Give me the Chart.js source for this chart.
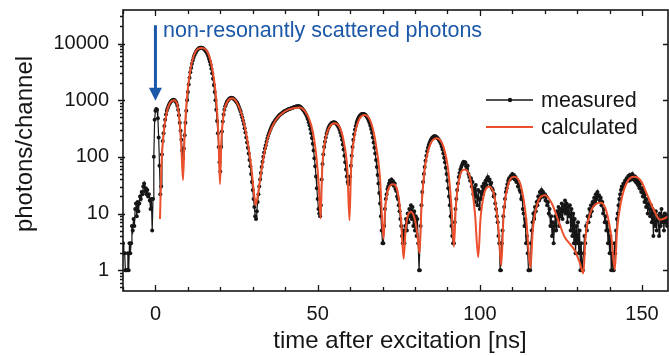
<!DOCTYPE html>
<html>
<head>
<meta charset="utf-8">
<script src="https://cdn.jsdelivr.net/npm/chart.js@4.4.1/dist/chart.umd.min.js"></script>
<style>
  html, body { margin: 0; padding: 0; background: #fff; overflow: hidden; }
  #wrap { position: relative; width: 672px; height: 356px; }
</style>
</head>
<body>
<div id="wrap"><canvas id="decay-chart"></canvas></div>
<script>
// measured histogram: one count per 0.25 ns channel, first channel at -10 ns
// (10 channels = 2.5 ns per row)
const firstChannel = -10;
const channelWidth = 0.25;
const measuredCounts = [
  3, 2, 2, 1, 1, 1, 2, 1, 3, 2,
  3, 6, 5, 8, 6, 12, 15, 9, 16, 11,
  15, 20, 18, 24, 22, 30, 34, 25, 28, 22,
  26, 20, 22, 17, 12, 18, 5, 18, 100, 450,
  650, 700, 680, 480, 220, 70, 22, 30, 110, 190,
  260, 350, 450, 560, 650, 720, 790, 850, 900, 950,
  980, 1000, 1020, 1010, 990, 950, 890, 800, 680, 540,
  400, 290, 200, 130, 95, 140, 240, 400, 650, 1000,
  1400, 1900, 2500, 3100, 3700, 4400, 5000, 5600, 6200, 6700,
  7100, 7500, 7800, 8100, 8300, 8400, 8450, 8400, 8300, 8150,
  7950, 7700, 7400, 7000, 6500, 6000, 5400, 4800, 4200, 3600,
  3000, 2400, 1850, 1400, 1000, 680, 430, 260, 150, 80,
  55, 150, 280, 420, 560, 680, 780, 860, 930, 980,
  1020, 1060, 1080, 1090, 1100, 1090, 1070, 1040, 1010, 970,
  930, 880, 820, 760, 690, 630, 560, 500, 440, 380,
  320, 270, 220, 180, 145, 115, 88, 68, 50, 36,
  26, 18, 13, 9, 8, 11, 16, 22, 30, 40,
  52, 66, 82, 100, 120, 140, 160, 185, 210, 235,
  260, 285, 310, 335, 360, 385, 405, 425, 445, 465,
  485, 505, 525, 545, 560, 575, 590, 605, 620, 635,
  645, 655, 665, 675, 690, 700, 705, 715, 725, 735,
  740, 750, 760, 770, 775, 780, 785, 780, 770, 755,
  730, 705, 680, 650, 620, 585, 545, 505, 460, 410,
  360, 310, 260, 215, 170, 130, 95, 68, 45, 28,
  18, 12, 10, 9, 14, 40, 75, 110, 150, 185,
  220, 255, 285, 315, 340, 360, 378, 392, 400, 405,
  408, 405, 398, 385, 370, 350, 328, 300, 270, 235,
  200, 165, 135, 105, 80, 60, 45, 36, 33, 36,
  45, 70, 105, 150, 200, 250, 300, 350, 400, 440,
  475, 505, 530, 550, 562, 570, 572, 568, 558, 545,
  525, 500, 470, 435, 395, 355, 310, 265, 220, 180,
  145, 115, 88, 66, 48, 34, 23, 15, 9, 5,
  3, 3, 6, 12, 18, 22, 27, 30, 34, 38,
  36, 40, 33, 37, 31, 34, 27, 25, 20, 18,
  14, 11, 8, 6, 4, 3, 5, 3, 6, 8,
  5, 10, 7, 12, 9, 14, 8, 13, 6, 11,
  5, 9, 4, 8, 3, 1, 1, 6, 14, 24,
  36, 50, 66, 85, 105, 125, 145, 162, 178, 192,
  205, 215, 222, 228, 232, 230, 226, 220, 212, 204,
  195, 183, 170, 152, 135, 115, 96, 80, 64, 50,
  38, 28, 20, 14, 9, 6, 4, 3, 3, 7,
  12, 18, 26, 34, 44, 52, 60, 66, 72, 78,
  82, 76, 80, 68, 62, 70, 50, 44, 38, 42,
  30, 36, 22, 28, 16, 32, 20, 14, 26, 18,
  12, 24, 18, 30, 22, 34, 28, 38, 32, 42,
  44, 38, 40, 33, 35, 28, 26, 20, 22, 15,
  12, 9, 7, 4, 3, 1, 1, 3, 5, 9,
  13, 18, 24, 28, 33, 38, 42, 40, 46, 44,
  50, 42, 48, 40, 44, 36, 38, 30, 32, 26,
  24, 18, 20, 12, 10, 6, 8, 3, 4, 2,
  1, 1, 1, 3, 5, 7, 10, 8, 13, 11,
  16, 14, 20, 17, 24, 19, 26, 21, 24, 20,
  22, 17, 20, 14, 16, 10, 12, 6, 9, 4,
  7, 3, 6, 9, 5, 11, 8, 13, 6, 12,
  9, 15, 8, 14, 11, 17, 10, 15, 7, 13,
  9, 14, 5, 12, 4, 10, 3, 8, 2, 6,
  3, 7, 2, 5, 1, 3, 1, 1, 2, 4,
  3, 6, 5, 9, 7, 12, 9, 14, 11, 16,
  14, 19, 16, 22, 18, 24, 20, 21, 17, 19,
  14, 16, 10, 12, 7, 9, 5, 7, 3, 5,
  2, 4, 1, 2, 1, 1, 3, 2, 5, 8,
  10, 14, 18, 22, 26, 30, 28, 34, 32, 38,
  36, 42, 40, 46, 38, 48, 44, 40, 50, 42,
  46, 38, 44, 35, 40, 32, 36, 28, 34, 24,
  28, 20, 24, 16, 22, 13, 18, 10, 15, 12,
  9, 14, 7, 12, 4, 10, 6, 11, 5, 9,
  8, 4, 10, 6, 12, 7, 9, 5, 10, 7,
  9, 6, 8
];

// calculated curve
const calcTime = [
  1.4, 1.8, 2.5, 3.5, 4.5, 5.7, 6.7, 7.4, 8.0, 8.5,
  9.0, 9.7, 10.8, 12.2, 14.2, 16.2, 17.6, 18.7, 19.4, 19.9,
  20.3, 21.0, 22.2, 23.6, 25.0, 26.6, 28.2, 29.5, 30.3, 30.9,
  31.6, 32.5, 33.5, 34.7, 36.0, 37.5, 39.1, 41.0, 43.0, 44.5, 46.0, 47.3, 48.5, 49.5, 50.3, 50.9,
  51.4, 52.3, 53.7, 55.3, 56.8, 58.1, 59.2, 59.8,
  60.3, 61.3, 62.8, 64.5, 66.2, 67.8, 69.2, 70.3,
  70.8, 71.8, 73.2, 74.6, 75.7, 76.5,
  77.1, 77.9, 78.8, 79.8, 80.7, 81.4,
  82.0, 83.0, 84.6, 86.7, 88.8, 90.3, 91.3, 92.0,
  92.6, 93.6, 95.4, 97.1, 98.5, 99.5,
  100.2, 101.3, 102.9, 104.5, 105.8, 106.6,
  107.3, 108.6, 110.7, 112.7, 114.3, 115.6,
  116.3, 117.6, 120.1, 122.2, 124.2, 126.1, 128.0, 129.5, 130.9, 131.9,
  132.6, 134.0, 135.6, 137.3, 139.0, 140.5, 141.6,
  142.3, 143.5, 145.4, 147.6, 149.6, 151.5, 153.5, 155.5, 157.0, 158.0
];
const calcCounts = [
  8, 60, 250, 620, 900, 1000, 850, 450, 140, 39,
  250, 1100, 3500, 6900, 8300, 6800, 3400, 1100, 250, 33,
  180, 550, 950, 1080, 930, 560, 220, 70, 25, 14,
  22, 50, 110, 220, 340, 480, 590, 680, 730, 745, 650, 480, 280, 115, 35, 8.2,
  60, 190, 340, 390, 330, 180, 55, 7.6,
  60, 220, 460, 550, 440, 190, 45, 3.6,
  12, 27, 33, 25, 8, 1.6,
  5, 9.5, 10.7, 8.5, 4.5, 2.0,
  12, 60, 160, 213, 150, 55, 12, 2.6,
  13, 40, 60, 40, 10, 1.7,
  8, 22, 29.6, 20, 5, 1.2,
  9, 30, 44.5, 30, 8, 1.1,
  5, 14, 21, 15, 7.5, 3.9, 2.8, 2.1, 1.3, 0.88,
  4, 10, 14.5, 15.5, 11, 4, 1.03,
  5, 16, 36, 44.5, 38, 22, 12, 7.8, 8.2, 9
];

const xTicks = [0, 50, 100, 150];
const yTicks = [1, 10, 100, 1000, 10000];
const seriesNames = ['measured', 'calculated'];

const ink = '#161616';
const red = '#ec4f2c';
const blue = '#1c58a8';
const fontFamily = '"Liberation Sans", Arial, Helvetica, sans-serif';

const measured = measuredCounts.map((c, i) => ({ x: firstChannel + i * channelWidth, y: c }));
const calculated = calcTime.map((t, i) => ({ x: t, y: calcCounts[i] }));

// axes box with inward ticks, titles, legend and the arrow note
const decorPlugin = {
  id: 'decor',
  afterDraw(chart) {
    const ctx = chart.ctx;
    const a = chart.chartArea;
    const xs = chart.scales.x;
    const ys = chart.scales.y;
    ctx.save();
    ctx.strokeStyle = ink;
    ctx.lineWidth = 1.6;
    ctx.strokeRect(a.left, a.top, a.right - a.left, a.bottom - a.top);

    ctx.lineWidth = 1.3;
    ctx.beginPath();
    for (let t = -10; t <= xs.max; t += 10) {
      const px = Math.round(xs.getPixelForValue(t)) + 0.5;
      const len = t % 50 === 0 ? 6 : 4;
      ctx.moveTo(px, a.bottom); ctx.lineTo(px, a.bottom - len);
      ctx.moveTo(px, a.top); ctx.lineTo(px, a.top + len);
    }
    for (let e = -1; e <= 4; e++) {
      for (let m = 1; m <= 9; m++) {
        const v = m * Math.pow(10, e);
        if (v < ys.min || v > ys.max) continue;
        const py = Math.round(ys.getPixelForValue(v)) + 0.5;
        const major = m === 1;
        ctx.moveTo(a.left - (major ? 5 : 3), py); ctx.lineTo(a.left + (major ? 2 : 0), py);
        if (major) { ctx.moveTo(a.right, py); ctx.lineTo(a.right - 5, py); }
      }
    }
    ctx.stroke();

    // axis titles
    ctx.fillStyle = ink;
    ctx.font = '24px ' + fontFamily;
    ctx.textAlign = 'center';
    ctx.textBaseline = 'middle';
    ctx.fillText('time after excitation [ns]', 400, 341);
    ctx.save();
    ctx.translate(25, 144);
    ctx.rotate(-Math.PI / 2);
    ctx.fillText('photons/channel', 0, 0);
    ctx.restore();

    // legend
    ctx.font = '21.5px ' + fontFamily;
    ctx.textAlign = 'left';
    ctx.lineWidth = 1.4;
    ctx.strokeStyle = ink;
    ctx.beginPath(); ctx.moveTo(486, 100); ctx.lineTo(533, 100); ctx.stroke();
    ctx.beginPath(); ctx.arc(510, 100, 2.2, 0, Math.PI * 2); ctx.fill();
    ctx.fillText(seriesNames[0], 541, 101);
    ctx.strokeStyle = red;
    ctx.lineWidth = 2;
    ctx.beginPath(); ctx.moveTo(486, 127); ctx.lineTo(533, 127); ctx.stroke();
    ctx.fillStyle = ink;
    ctx.fillText(seriesNames[1], 541, 128);

    // arrow pointing at the prompt peak at t = 0
    const ax = xs.getPixelForValue(0);
    const yTop = ys.getPixelForValue(21000);
    const yTip = ys.getPixelForValue(980);
    ctx.strokeStyle = blue;
    ctx.fillStyle = blue;
    ctx.lineWidth = 3;
    ctx.beginPath(); ctx.moveTo(ax, yTop); ctx.lineTo(ax, yTip - 12); ctx.stroke();
    ctx.beginPath();
    ctx.moveTo(ax - 6.5, yTip - 13);
    ctx.lineTo(ax + 6.5, yTip - 13);
    ctx.lineTo(ax, yTip);
    ctx.closePath();
    ctx.fill();
    ctx.font = '21.5px ' + fontFamily;
    ctx.textBaseline = 'alphabetic';
    ctx.fillText('non-resonantly scattered photons', 163, 37);
    ctx.restore();
  }
};

const chartElement = document.getElementById('decay-chart');
const decayChart = new Chart(chartElement.getContext('2d'), {
  type: 'line',
  data: {
    datasets: [
      {
        label: seriesNames[1],
        data: calculated,
        borderColor: red,
        borderWidth: 2,
        pointRadius: 0,
        cubicInterpolationMode: 'monotone',
        order: 0
      },
      {
        label: seriesNames[0],
        data: measured,
        borderColor: ink,
        backgroundColor: ink,
        borderWidth: 1.2,
        pointRadius: 2,
        pointBorderWidth: 0,
        tension: 0,
        order: 1
      }
    ]
  },
  options: {
    responsive: true,
    maintainAspectRatio: false,
    animation: false,
    layout: { padding: { top: 10, right: 1, bottom: 0, left: 0 } },
    plugins: { legend: { display: false }, tooltip: { enabled: false } },
    scales: {
      x: {
        type: 'linear',
        min: -10,
        max: 158,
        afterBuildTicks: (scale) => { scale.ticks = xTicks.map(v => ({ value: v })); },
        afterFit: (scale) => { scale.height = 65; scale.paddingLeft = 0; scale.paddingRight = 0; },
        grid: { display: false, drawTicks: false },
        border: { display: false },
        ticks: { color: ink, padding: 11, font: { family: fontFamily, size: 20 } }
      },
      y: {
        type: 'logarithmic',
        min: 0.43,
        max: 39000,
        afterBuildTicks: (scale) => { scale.ticks = yTicks.map(v => ({ value: v })); },
        afterFit: (scale) => { scale.width = 123; scale.paddingTop = 0; scale.paddingBottom = 0; },
        grid: { display: false, drawTicks: false },
        border: { display: false },
        ticks: {
          color: ink,
          padding: 14,
          font: { family: fontFamily, size: 20 },
          callback: (v) => String(v)
        }
      }
    }
  },
  plugins: [decorPlugin]
});
</script>
</body>
</html>
